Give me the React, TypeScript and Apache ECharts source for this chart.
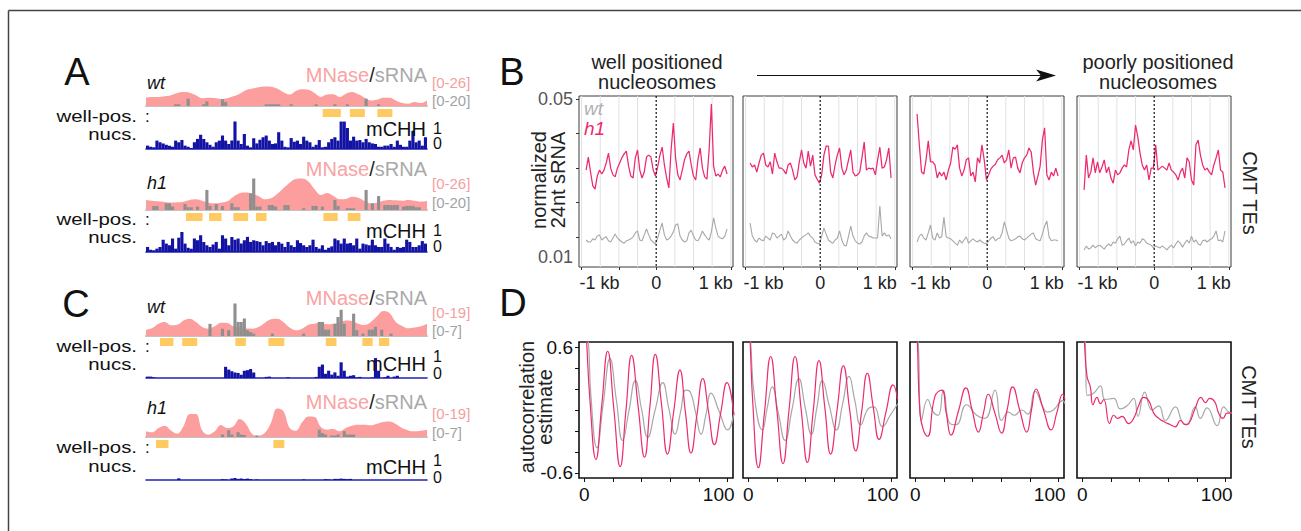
import React, { useEffect, useRef } from "react";
import * as echarts from "echarts";

const FONT = '"Liberation Sans", Arial, Helvetica, sans-serif';
const PINK = "#ec2a72";
const GRAY = "#a8a8a8";
const MN_PINK = "#fc9e9d";
const SRNA_GRAY = "#8f8f8f";
const ORANGE = "#ffca62";
const BLUE = "#1212a4";

// ---------------- Panels A / C : browser tracks (90 bins per track) ----------------
const BIN_IDS = Array.from({ length: 90 }, (_, i) => String(i));
const MN_POS = [0,2,4,6,8,10,12,14,16,18,20,22,24,26,28,30,32,34,36,38,40,42,44,46,48,50,52,54,56,58,60,62,64,66,68,70,72,74,76,78,80,82,84,86,88,90];

const A_WT_MNASE = [6.4,6.9,6.9,7.4,8.2,9.9,10.7,10.2,8.2,5.9,6.4,6.1,5.4,5.9,7.4,9.4,12.0,13.3,14.3,15.0,14.8,13.3,10.5,8.7,11.5,12.8,12.5,9.9,6.9,8.7,8.9,6.9,9.4,10.7,8.9,6.4,4.3,4.8,6.4,6.4,4.3,2.3,1.8,3.1,2.3,4.3];
const A_H1_MNASE = [7.7,7.1,6.6,6.1,5.6,5.9,6.4,7.7,8.2,7.1,5.6,5.1,5.6,6.6,10.2,12.8,13.3,12.5,10.7,8.2,8.9,12.2,16.6,20.9,23.7,24.0,21.7,15.8,11.5,13.0,10.7,8.2,8.4,10.2,9.4,6.9,5.1,5.6,7.1,7.7,7.4,7.1,7.7,7.1,6.4,6.9];
const C_WT_MNASE = [3.5,4.5,6.9,7.8,6.0,6.3,8.7,9.7,7.8,5.0,4.1,5.4,7.4,7.3,5.4,4.7,4.3,4.1,5.0,7.3,9.3,9.7,7.8,4.7,3.2,4.1,6.3,6.9,7.4,6.5,6.9,7.6,8.7,8.4,6.9,6.1,7.8,11.0,14.0,12.8,7.8,5.6,4.3,4.7,5.4,6.9];
const C_H1_MNASE = [3.2,2.6,5.0,6.3,3.7,1.9,6.0,12.8,12.9,3.7,1.3,3.2,6.7,5.0,6.0,10.0,7.4,1.7,0.7,2.2,7.8,15.9,14.5,5.0,3.5,8.2,11.5,11.2,5.6,4.1,4.5,3.2,5.0,6.3,6.9,6.9,6.5,7.4,8.4,8.6,7.3,5.0,3.7,3.2,3.5,4.1];

const A_WT_SRNA = [[9,1.0],[10,1.0],[13,4.3],[18,1.0],[19,2.7],[24,3.9],[25,2.4],[38,1.0],[39,1.0],[40,1.0],[41,1.0],[42,1.0],[46,1.0],[54,1.0],[60,1.0],[64,1.0],[70,4.3],[74,1.0]];
const A_H1_SRNA = [[2,2.4],[3,2.4],[6,3.9],[7,3.9],[8,2.0],[12,3.5],[13,1.6],[14,1.6],[16,2.0],[19,11.8],[20,2.4],[22,3.5],[24,2.4],[27,3.9],[28,1.6],[29,1.6],[33,9.8],[34,18.6],[35,2.0],[36,2.0],[39,2.9],[40,2.9],[41,2.0],[44,2.9],[45,2.9],[50,1.0],[53,2.4],[54,2.4],[56,2.0],[60,5.9],[61,2.4],[64,1.0],[65,1.0],[66,1.0],[70,11.8],[72,3.9],[74,8.2],[76,2.9],[77,2.9],[78,2.9],[79,2.9],[80,2.9],[82,2.0],[83,2.4],[84,2.4],[85,2.4],[86,1.6],[87,1.6]];
const C_WT_SRNA = [[20,2.5],[24,1.5],[26,1.2],[28,6.7],[29,2.9],[30,2.9],[31,3.6],[32,1.2],[33,0.8],[34,0.5],[40,0.5],[50,0.5],[55,2.9],[56,2.9],[57,1.3],[58,1.3],[60,2.5],[61,3.9],[62,5.4],[63,2.5],[66,4.6],[67,1.2],[69,0.5],[71,1.3],[72,1.3],[73,1.9],[75,1.3],[78,0.5]];
const C_H1_SRNA = [[24,0.5],[26,1.4],[27,0.5],[29,1.0],[30,0.5],[31,0.4],[35,0.3],[55,1.5],[56,0.8],[57,0.5],[59,0.3],[60,0.3],[61,0.5],[63,1.2],[64,0.5],[65,0.5],[66,0.5]];

const A_WT_NUC = [[56.6,62.4],[65.3,70.1],[74.1,78.9]];
const A_H1_NUC = [[12.8,18.1],[20.2,24.2],[28,32.7],[35.2,38.6],[56.8,61.4],[64.6,68.7]];
const C_WT_NUC = [[4.5,8.8],[11.6,16.4],[28.6,32],[39.2,44.3],[57.6,61],[69.3,72.6],[74.6,77.9]];
const C_H1_NUC = [[3.2,7.2],[40.8,44.3]];

const A_WT_MCHH = [0.12,0.08,0.06,0.30,0.24,0.20,0.15,0.12,0.08,0.30,0.24,0.32,0.12,0.08,0.04,0.24,0.36,0.51,0.36,0.24,0.15,0.08,0.24,0.30,0.48,0.30,0.18,0.30,0.98,0.30,0.18,0.54,0.12,0.06,0.38,0.20,0.33,0.42,0.48,0.30,0.18,0.20,0.60,0.30,0.08,0.06,0.39,0.26,0.30,0.18,0.44,0.30,0.24,0.08,0.15,0.32,0.06,0.08,0.24,0.36,0.42,0.30,0.98,0.98,0.75,0.30,0.44,0.30,0.32,0.24,0.36,0.24,0.20,0.18,0.08,0.08,0.12,0.12,0.18,0.08,0.30,0.15,0.08,0.08,0.30,0.65,0.24,0.30,0.12,0.42];
const A_H1_MCHH = [0.18,0.08,0.06,0.12,0.18,0.44,0.30,0.24,0.48,0.12,0.51,0.71,0.30,0.15,0.12,0.48,0.42,0.60,0.36,0.24,0.18,0.27,0.36,0.12,0.60,0.48,0.24,0.54,0.44,0.48,0.30,0.42,0.54,0.36,0.42,0.39,0.36,0.24,0.39,0.32,0.36,0.24,0.36,0.30,0.18,0.36,0.24,0.18,0.42,0.32,0.24,0.18,0.24,0.44,0.18,0.12,0.24,0.08,0.15,0.20,0.48,0.42,0.30,0.48,0.30,0.32,0.24,0.48,0.12,0.30,0.27,0.24,0.44,0.24,0.18,0.18,0.48,0.30,0.18,0.08,0.18,0.15,0.18,0.44,0.36,0.18,0.18,0.24,0.39,0.30];
const C_WT_MCHH = [[0,0.05],[1,0.05],[2,0.03],[25,0.40],[26,0.30],[27,0.24],[28,0.20],[29,0.18],[30,0.12],[31,0.26],[32,0.28],[33,0.32],[34,0.20],[38,0.04],[39,0.05],[45,0.03],[54,0.04],[55,0.40],[56,0.48],[57,0.15],[58,0.26],[59,0.12],[60,0.20],[61,0.08],[62,0.56],[63,0.26],[64,0.05],[65,0.08],[66,0.10],[67,0.02],[68,0.04],[72,0.02],[73,0.71],[74,0.26],[76,0.03],[77,0.08],[79,0.05],[80,0.08]];
const C_H1_MCHH = [[10,0.06],[24,0.03],[25,0.02],[27,0.05],[28,0.07],[29,0.04],[30,0.05],[31,0.04],[32,0.05],[33,0.03],[35,0.02],[50,0.02],[57,0.03],[58,0.02],[60,0.04],[61,0.04],[62,0.05],[63,0.04],[64,0.03],[65,0.04]];

// ---------------- Panel B : normalized 24nt sRNA around nucleosomes ----------------
const BIN_KB = [-0.94,-0.91,-0.88,-0.85,-0.82,-0.79,-0.76,-0.73,-0.70,-0.67,-0.64,-0.61,-0.58,-0.55,-0.52,-0.49,-0.46,-0.43,-0.40,-0.37,-0.34,-0.31,-0.28,-0.25,-0.22,-0.19,-0.16,-0.13,-0.10,-0.07,-0.04,-0.01,0.02,0.05,0.08,0.11,0.14,0.17,0.20,0.23,0.26,0.29,0.32,0.35,0.38,0.41,0.44,0.47,0.50,0.53,0.56,0.59,0.62,0.65,0.68,0.71,0.74,0.77,0.80,0.83,0.86,0.89,0.92,0.95];
const B_KB_TICKS = [-1, -0.5, 0, 0.5, 1];
const B_KB_GRID = [-1, -0.75, -0.5, -0.25, 0.25, 0.5, 0.75, 1];
const B_Y_TICKS = [0.05, 0.0414, 0.0325, 0.0239, 0.0151];
const B_Y_LABELS = [0.01, 0.05];

const B_H1_1 = [0.0320,0.0353,0.0315,0.0280,0.0272,0.0305,0.0320,0.0310,0.0320,0.0338,0.0363,0.0325,0.0308,0.0303,0.0325,0.0338,0.0351,0.0361,0.0368,0.0330,0.0305,0.0300,0.0351,0.0371,0.0320,0.0300,0.0315,0.0353,0.0358,0.0353,0.0320,0.0305,0.0328,0.0358,0.0378,0.0333,0.0300,0.0275,0.0371,0.0439,0.0351,0.0308,0.0295,0.0320,0.0346,0.0361,0.0368,0.0333,0.0305,0.0295,0.0346,0.0376,0.0325,0.0303,0.0297,0.0371,0.0487,0.0330,0.0305,0.0310,0.0303,0.0320,0.0330,0.0310];
const B_WT_1 = [0.0143,0.0138,0.0138,0.0146,0.0143,0.0153,0.0156,0.0143,0.0148,0.0151,0.0141,0.0138,0.0148,0.0158,0.0148,0.0143,0.0138,0.0135,0.0141,0.0143,0.0146,0.0151,0.0161,0.0166,0.0143,0.0141,0.0156,0.0171,0.0156,0.0143,0.0138,0.0133,0.0148,0.0168,0.0186,0.0156,0.0143,0.0146,0.0153,0.0163,0.0181,0.0184,0.0153,0.0143,0.0138,0.0141,0.0161,0.0168,0.0153,0.0143,0.0141,0.0151,0.0166,0.0156,0.0148,0.0143,0.0163,0.0199,0.0173,0.0153,0.0148,0.0146,0.0153,0.0171];
const B_H1_2 = [0.0338,0.0328,0.0333,0.0315,0.0338,0.0358,0.0363,0.0333,0.0328,0.0341,0.0310,0.0363,0.0341,0.0325,0.0325,0.0320,0.0310,0.0333,0.0338,0.0320,0.0295,0.0303,0.0341,0.0371,0.0338,0.0325,0.0368,0.0330,0.0358,0.0308,0.0297,0.0287,0.0308,0.0358,0.0381,0.0381,0.0315,0.0300,0.0333,0.0358,0.0376,0.0325,0.0308,0.0320,0.0346,0.0371,0.0315,0.0305,0.0308,0.0315,0.0351,0.0391,0.0320,0.0325,0.0323,0.0325,0.0308,0.0346,0.0378,0.0325,0.0328,0.0346,0.0376,0.0300];
const B_WT_2 = [0.0186,0.0153,0.0143,0.0138,0.0148,0.0143,0.0141,0.0153,0.0148,0.0143,0.0161,0.0158,0.0148,0.0153,0.0158,0.0143,0.0148,0.0166,0.0153,0.0143,0.0138,0.0135,0.0143,0.0148,0.0153,0.0156,0.0161,0.0153,0.0148,0.0138,0.0135,0.0133,0.0153,0.0173,0.0158,0.0143,0.0138,0.0135,0.0143,0.0148,0.0166,0.0143,0.0130,0.0128,0.0153,0.0178,0.0153,0.0141,0.0135,0.0133,0.0138,0.0153,0.0161,0.0153,0.0151,0.0148,0.0148,0.0148,0.0229,0.0153,0.0161,0.0153,0.0156,0.0146];
const B_H1_3 = [0.0462,0.0384,0.0315,0.0310,0.0346,0.0394,0.0341,0.0341,0.0333,0.0300,0.0315,0.0305,0.0315,0.0295,0.0320,0.0338,0.0378,0.0373,0.0384,0.0325,0.0305,0.0320,0.0346,0.0351,0.0305,0.0315,0.0290,0.0351,0.0338,0.0384,0.0346,0.0295,0.0308,0.0323,0.0330,0.0335,0.0346,0.0351,0.0358,0.0338,0.0346,0.0371,0.0325,0.0351,0.0353,0.0325,0.0313,0.0338,0.0351,0.0358,0.0376,0.0366,0.0315,0.0282,0.0305,0.0330,0.0396,0.0427,0.0308,0.0295,0.0315,0.0305,0.0325,0.0305];
const B_WT_3 = [0.0138,0.0153,0.0158,0.0148,0.0143,0.0161,0.0181,0.0148,0.0143,0.0161,0.0148,0.0151,0.0201,0.0151,0.0148,0.0146,0.0141,0.0135,0.0130,0.0143,0.0135,0.0143,0.0151,0.0135,0.0141,0.0146,0.0141,0.0138,0.0143,0.0138,0.0135,0.0133,0.0141,0.0148,0.0151,0.0141,0.0146,0.0148,0.0161,0.0189,0.0168,0.0148,0.0141,0.0143,0.0146,0.0151,0.0153,0.0146,0.0143,0.0148,0.0153,0.0158,0.0161,0.0146,0.0143,0.0141,0.0158,0.0178,0.0191,0.0151,0.0141,0.0143,0.0143,0.0141];
const B_H1_4 = [0.0270,0.0358,0.0300,0.0315,0.0351,0.0313,0.0341,0.0313,0.0328,0.0346,0.0313,0.0328,0.0300,0.0287,0.0320,0.0308,0.0313,0.0325,0.0333,0.0328,0.0371,0.0394,0.0371,0.0434,0.0404,0.0363,0.0333,0.0320,0.0333,0.0295,0.0325,0.0325,0.0384,0.0320,0.0325,0.0330,0.0325,0.0320,0.0338,0.0320,0.0315,0.0308,0.0295,0.0315,0.0325,0.0300,0.0351,0.0341,0.0295,0.0282,0.0384,0.0396,0.0358,0.0333,0.0320,0.0325,0.0315,0.0308,0.0333,0.0351,0.0371,0.0320,0.0315,0.0275];
const B_WT_4 = [0.0118,0.0128,0.0120,0.0123,0.0130,0.0123,0.0128,0.0130,0.0125,0.0120,0.0128,0.0133,0.0128,0.0138,0.0135,0.0146,0.0153,0.0130,0.0133,0.0141,0.0148,0.0135,0.0141,0.0128,0.0138,0.0135,0.0146,0.0143,0.0135,0.0133,0.0130,0.0123,0.0128,0.0125,0.0123,0.0128,0.0123,0.0118,0.0125,0.0130,0.0123,0.0133,0.0141,0.0135,0.0125,0.0135,0.0143,0.0135,0.0153,0.0138,0.0143,0.0133,0.0130,0.0141,0.0143,0.0138,0.0143,0.0146,0.0153,0.0166,0.0141,0.0143,0.0138,0.0166];

// ---------------- Panel D : autocorrelation estimate vs lag ----------------
const D_LAG_TICKS = [0, 20, 40, 60, 80, 100];
const D_LAG_LABELS = [0, 100];
const D_Y_TICKS = [-0.6, -0.4, -0.2, 0, 0.2, 0.4, 0.6];
const D_Y_LABELS = [-0.6, 0.6];

const D_H1_1 = [[0,1.0],[1.5,0.68],[4,0.08],[8.1,-0.47],[12.2,0.05],[16.3,0.56],[20.6,0.01],[25,-0.54],[29,-0.01],[33,0.52],[37.5,0.04],[42,-0.45],[45.8,0.04],[49.5,0.53],[53.8,0.06],[58,-0.42],[62.3,-0.02],[66.7,0.38],[70.5,-0.02],[74.4,-0.41],[78.5,-0.05],[82.6,0.30],[86.7,-0.02],[90.7,-0.33],[95.1,-0.03],[99.5,0.26],[104.4,-0.05]];
const D_WT_1 = [[0,1.0],[2.8,0.66],[4.7,0.12],[8.8,-0.36],[13.3,0.07],[17.9,0.49],[22.3,0.1],[26.7,-0.29],[31.1,-0.01],[35.6,0.28],[39.9,0.01],[44.2,-0.26],[49.4,0.0],[54.7,0.26],[59,0.01],[63.3,-0.23],[67.1,-0.02],[70.9,0.19],[74,0.17],[77.7,-0.03],[81.4,-0.23],[84.9,-0.04],[88.4,0.16],[94.2,-0.02],[100,-0.19],[104.4,-0.02]];
const D_H1_2 = [[0,1.0],[1.2,0.68],[3.2,0.05],[7,-0.55],[11.3,-0.02],[15.6,0.51],[19.9,0.0],[24.2,-0.51],[28.4,0.0],[32.6,0.51],[36.9,0.0],[41.2,-0.5],[45.2,-0.02],[49.3,0.47],[53.4,0.02],[57.4,-0.42],[61.9,0.0],[66.3,0.42],[70.6,0.01],[74.9,-0.39],[79,-0.02],[83,0.35],[87.1,0.03],[91.2,-0.28],[96,-0.02],[101,0.24],[104.2,0.1]];
const D_WT_2 = [[0,1.0],[1.6,0.66],[4.5,0.1],[9.8,-0.19],[13.2,0.02],[16.7,0.22],[21.1,-0.04],[25.6,-0.29],[30.4,0.0],[35.3,0.30],[39.6,0.03],[44,-0.23],[47.8,0.02],[51.6,0.28],[56.5,0.04],[61.4,-0.19],[65.8,0.06],[70.2,0.32],[74.3,0.09],[78.4,-0.14],[84.2,0.02],[87.7,0.03],[93.5,-0.16],[99,-0.05],[104.2,0.06]];
const D_H1_3 = [[0,1.0],[1.4,0.66],[3.3,-0.03],[8.6,-0.25],[13.7,0.13],[18.4,0.19],[21.6,-0.03],[24.9,-0.24],[30.1,-0.01],[35.3,0.21],[39.6,0.0],[44,-0.21],[47.5,-0.03],[50.9,0.15],[55.5,-0.03],[60.2,-0.22],[64,0.0],[67.9,0.22],[72.8,0.0],[77.7,-0.21],[81,0.0],[84.2,0.20],[89.4,0.0],[94.7,-0.19],[98.8,-0.02],[102.8,0.15],[104.4,0.1]];
const D_WT_3 = [[0,1.0],[2,0.66],[4.4,-0.10],[8.6,0.10],[12.6,-0.02],[16,-0.05],[19.5,0.19],[24.2,-0.13],[28.4,-0.14],[35.8,0.05],[42.8,-0.05],[48.6,-0.08],[55.6,0.19],[60.2,-0.10],[65,-0.02],[69,-0.05],[74.2,0.0],[78.5,-0.04],[83.5,0.18],[89.3,0.02],[92,-0.02],[96.3,0.0],[102.8,0.09],[104.4,0.06]];
const D_H1_4 = [[0,1.0],[1.4,0.66],[3.3,0.32],[5.6,0.22],[7.4,0.05],[10.2,0.12],[12.6,0.06],[14.9,0.10],[19,-0.13],[21.9,-0.05],[24.7,-0.08],[27.7,-0.06],[32.3,-0.13],[35.8,-0.08],[39.3,0.04],[42.8,0.12],[46.3,0.09],[49.8,-0.03],[53.3,-0.08],[56.7,-0.11],[61.4,-0.14],[64.9,-0.16],[68.4,-0.10],[71.9,-0.14],[74.2,-0.13],[78.8,0.02],[82.8,0.12],[85.8,0.07],[88.8,0.11],[92.3,0.08],[95.1,-0.03],[98.1,-0.08],[101,-0.03],[104.4,-0.03]];
const D_WT_4 = [[0,1.0],[2,0.66],[3.3,0.14],[7.9,0.16],[12.6,0.23],[16,0.10],[21.9,0.11],[26.5,0.01],[31.2,0.04],[35.8,0.11],[38.8,-0.06],[43.5,0.17],[48.6,0.0],[53.3,0.04],[57.9,-0.10],[64.9,0.03],[69.5,-0.11],[72.6,-0.14],[78.8,0.03],[82.3,-0.08],[87,0.02],[94,-0.15],[98.6,0.03],[102.1,-0.02],[104.4,-0.03]];

// ---------------- layout tables ----------------
const TRACK_LEFT = 146;
const TRACK_WIDTH = 281;
const TRACKS = [
  { mnase: A_WT_MNASE, srna: A_WT_SRNA, nuc: A_WT_NUC, mchh: A_WT_MCHH, mnMax: 26, srMax: 20, base: 106, orTop: 109, mBase: 149 },
  { mnase: A_H1_MNASE, srna: A_H1_SRNA, nuc: A_H1_NUC, mchh: A_H1_MCHH, mnMax: 26, srMax: 20, base: 210, orTop: 213, mBase: 252 },
  { mnase: C_WT_MNASE, srna: C_WT_SRNA, nuc: C_WT_NUC, mchh: C_WT_MCHH, mnMax: 19, srMax: 7, base: 336, orTop: 338, mBase: 378 },
  { mnase: C_H1_MNASE, srna: C_H1_SRNA, nuc: C_H1_NUC, mchh: C_H1_MCHH, mnMax: 19, srMax: 7, base: 437, orTop: 440, mBase: 480 },
];
const TRACK_TEXT = [
  { label: "wt", labelY: 83, mnY: 75, r1: "[0-26]", r1Y: 82, r2: "[0-20]", r2Y: 100, wpY: 116, nucY: 134, mchhY: 129, oneY: 128, zeroY: 143 },
  { label: "h1", labelY: 183, mnY: 169, r1: "[0-26]", r1Y: 183, r2: "[0-20]", r2Y: 202, wpY: 219, nucY: 237, mchhY: 231, oneY: 230, zeroY: 246 },
  { label: "wt", labelY: 307, mnY: 298, r1: "[0-19]", r1Y: 312, r2: "[0-7]", r2Y: 330, wpY: 346, nucY: 364, mchhY: 364, oneY: 356, zeroY: 373 },
  { label: "h1", labelY: 408, mnY: 402, r1: "[0-19]", r1Y: 413, r2: "[0-7]", r2Y: 432, wpY: 447, nucY: 466, mchhY: 467, oneY: 460, zeroY: 477 },
];
const PANEL_LEFTS = [579, 743, 910, 1077];
const PANEL_W = 154;
const B_PANELS = [
  { wt: B_WT_1, h1: B_H1_1 }, { wt: B_WT_2, h1: B_H1_2 }, { wt: B_WT_3, h1: B_H1_3 }, { wt: B_WT_4, h1: B_H1_4 },
];
const D_PANELS = [
  { wt: D_WT_1, h1: D_H1_1 }, { wt: D_WT_2, h1: D_H1_2 }, { wt: D_WT_3, h1: D_H1_3 }, { wt: D_WT_4, h1: D_H1_4 },
];

function txt(text: string, x: number, y: number, o: any = {}) {
  const style: any = {
    text,
    fontFamily: FONT,
    fontSize: o.size ?? 16,
    fill: o.color ?? "#111",
    align: o.align ?? "left",
    verticalAlign: "middle",
    fontStyle: o.italic ? "italic" : "normal",
  };
  if (o.rich) style.rich = o.rich;
  const el: any = { type: "text", x, y, rotation: o.rot ?? 0, silent: true, z: 100, style };
  if (o.sx) el.scaleX = o.sx;
  return el;
}

function buildOption() {
  const grid: any[] = [];
  const xAxis: any[] = [];
  const yAxis: any[] = [];
  const series: any[] = [];
  const addG = (g: any) => (grid.push(g), grid.length - 1);
  const addX = (a: any) => (xAxis.push(a), xAxis.length - 1);
  const addY = (a: any) => (yAxis.push(a), yAxis.length - 1);
  const hidden = { show: false };
  const noLine = { show: false, onZero: false };

  // ---- tracks
  TRACKS.forEach((t) => {
    const gS = addG({ left: TRACK_LEFT, top: t.base - 34, width: TRACK_WIDTH, height: 34 });
    const xc = addX({ type: "category", gridIndex: gS, data: BIN_IDS, axisLine: { show: true, onZero: false, lineStyle: { color: "#c2c2c2", width: 2 } }, axisTick: hidden, axisLabel: hidden, splitLine: hidden });
    const xv = addX({ type: "value", gridIndex: gS, min: 0, max: 90, show: false });
    const ym = addY({ type: "value", gridIndex: gS, min: 0, max: t.mnMax, show: false });
    const ys = addY({ type: "value", gridIndex: gS, min: 0, max: t.srMax, show: false });
    series.push({ type: "line", xAxisIndex: xv, yAxisIndex: ym, z: 1, data: MN_POS.map((p, i) => [p, t.mnase[i]]), smooth: 0.4, symbol: "none", lineStyle: { width: 0 }, areaStyle: { color: MN_PINK, opacity: 1 }, silent: true });
    series.push({ type: "bar", xAxisIndex: xc, yAxisIndex: ys, z: 3, data: t.srna, barWidth: "100%", itemStyle: { color: SRNA_GRAY }, silent: true });

    const gO = addG({ left: TRACK_LEFT, top: t.orTop, width: TRACK_WIDTH, height: 8 });
    const xo = addX({ type: "value", gridIndex: gO, min: 0, max: 90, show: false });
    const yo = addY({ type: "value", gridIndex: gO, min: 0, max: 1, show: false });
    series.push({
      type: "custom", xAxisIndex: xo, yAxisIndex: yo, data: t.nuc, silent: true,
      renderItem: (params: any, api: any) => {
        const a = api.coord([api.value(0), 0]);
        const b = api.coord([api.value(1), 1]);
        return { type: "rect", shape: { x: a[0], y: b[1], width: b[0] - a[0], height: a[1] - b[1] }, style: { fill: ORANGE } };
      },
    });

    const gM = addG({ left: TRACK_LEFT, top: t.mBase - 28, width: TRACK_WIDTH, height: 28 });
    const xm = addX({ type: "category", gridIndex: gM, data: BIN_IDS, axisLine: { show: true, onZero: false, lineStyle: { color: "#2222bb", width: 1.6 } }, axisTick: hidden, axisLabel: hidden, splitLine: hidden });
    const ymm = addY({ type: "value", gridIndex: gM, min: 0, max: 1, show: false });
    series.push({ type: "bar", xAxisIndex: xm, yAxisIndex: ymm, data: t.mchh, barWidth: "100%", itemStyle: { color: BLUE }, silent: true });
  });

  // ---- panel B
  const bRich = { fontSize: 18, color: "#222", fontFamily: FONT };
  B_PANELS.forEach((p, i) => {
    const g = addG({ left: PANEL_LEFTS[i], top: 96, width: PANEL_W, height: 171, show: true, borderColor: "#3a3a3a", borderWidth: 1, backgroundColor: "transparent" });
    const x = addX({
      type: "value", gridIndex: g, min: -1.035, max: 1.03, position: "bottom",
      axisLine: noLine, splitLine: hidden,
      axisTick: { show: true, inside: false, length: 3, customValues: B_KB_TICKS, lineStyle: { color: "#333" } },
      axisLabel: {
        customValues: [-1, 0, 1], margin: 7,
        formatter: (v: number) => (v < 0 ? "{l|-1 kb}" : v > 0 ? "{r|1 kb}" : "{c|0}"),
        rich: { l: { ...bRich, padding: [0, 0, 0, 36] }, r: { ...bRich, padding: [0, 30, 0, 0] }, c: bRich },
      },
    });
    const y = addY({
      type: "value", gridIndex: g, min: 0.00747, max: 0.05076, position: "left",
      axisLine: noLine, splitLine: hidden,
      axisTick: { show: i === 0, inside: false, length: 3, customValues: B_Y_TICKS, lineStyle: { color: "#333" } },
      axisLabel: { show: i === 0, customValues: B_Y_LABELS, formatter: (v: number) => v.toFixed(2), color: "#555", fontSize: 18, fontFamily: FONT, margin: 6 },
    });
    series.push({
      type: "custom", xAxisIndex: x, yAxisIndex: y, z: 1, silent: true,
      data: B_KB_GRID.map((v) => [v, 0.03]),
      renderItem: (params: any, api: any) => {
        const px = api.coord([api.value(0), 0.03])[0];
        const cs = params.coordSys;
        return { type: "line", shape: { x1: px, y1: cs.y, x2: px, y2: cs.y + cs.height }, style: { stroke: "#e2e2e2", lineWidth: 1 } };
      },
    });
    series.push({ type: "line", xAxisIndex: x, yAxisIndex: y, z: 2, data: BIN_KB.map((k, j) => [k, p.wt[j]]), symbol: "none", lineStyle: { color: GRAY, width: 1.1 }, silent: true });
    series.push({ type: "line", xAxisIndex: x, yAxisIndex: y, z: 3, data: BIN_KB.map((k, j) => [k, p.h1[j]]), symbol: "none", lineStyle: { color: PINK, width: 1.25 }, silent: true });
    series.push({
      type: "custom", xAxisIndex: x, yAxisIndex: y, z: 4, silent: true,
      data: [[0, 0.03]],
      renderItem: (params: any, api: any) => {
        const px = api.coord([api.value(0), 0.03])[0];
        const cs = params.coordSys;
        return { type: "line", shape: { x1: px, y1: cs.y, x2: px, y2: cs.y + cs.height }, style: { stroke: "#111", lineWidth: 1.2, lineDash: [2, 2] } };
      },
    });
  });

  // ---- panel D
  const dRich = { fontSize: 19, color: "#111", fontFamily: FONT };
  D_PANELS.forEach((p, i) => {
    const g = addG({ left: PANEL_LEFTS[i], top: 342, width: PANEL_W, height: 136, show: true, borderColor: "#111", borderWidth: 1.6, backgroundColor: "transparent" });
    const x = addX({
      type: "value", gridIndex: g, min: -3.7, max: 103.7, position: "bottom",
      axisLine: noLine, splitLine: hidden,
      axisTick: { show: true, inside: false, length: 4, customValues: D_LAG_TICKS, lineStyle: { color: "#111" } },
      axisLabel: {
        customValues: D_LAG_LABELS, margin: 7,
        formatter: (v: number) => (v === 0 ? "{c|0}" : "{r|100}"),
        rich: { c: dRich, r: { ...dRich, padding: [0, 18, 0, 0] } },
      },
    });
    const y = addY({
      type: "value", gridIndex: g, min: -0.648, max: 0.648, position: "left",
      axisLine: noLine, splitLine: hidden,
      axisTick: { show: i === 0, inside: false, length: 4, customValues: D_Y_TICKS, lineStyle: { color: "#111" } },
      axisLabel: { show: i === 0, customValues: D_Y_LABELS, formatter: (v: number) => (v > 0 ? "0.6" : "-0.6"), color: "#111", fontSize: 19, fontFamily: FONT, margin: 6 },
    });
    series.push({ type: "line", xAxisIndex: x, yAxisIndex: y, z: 2, data: p.wt, smooth: 0.5, symbol: "none", lineStyle: { color: GRAY, width: 1.2 }, silent: true });
    series.push({ type: "line", xAxisIndex: x, yAxisIndex: y, z: 3, data: p.h1, smooth: 0.5, symbol: "none", lineStyle: { color: PINK, width: 1.2 }, silent: true });
  });

  // ---- texts & decorations
  const els: any[] = [];
  els.push({ type: "line", silent: true, shape: { x1: 8.5, y1: 10.5, x2: 1301, y2: 10.5 }, style: { stroke: "#444", lineWidth: 1.5 } });
  els.push({ type: "line", silent: true, shape: { x1: 8.5, y1: 10.5, x2: 8.5, y2: 531 }, style: { stroke: "#444", lineWidth: 1.5 } });
  els.push(txt("A", 77, 72, { size: 38, align: "center" }));
  els.push(txt("C", 76, 304, { size: 38, align: "center" }));
  els.push(txt("B", 512, 72, { size: 38, align: "center" }));
  els.push(txt("D", 513, 303, { size: 38, align: "center" }));

  TRACK_TEXT.forEach((t) => {
    els.push(txt(t.label, 147, t.labelY, { size: 18, italic: true }));
    els.push(txt("{a|MNase}{b|/}{c|sRNA}", 427, t.mnY, {
      align: "right",
      rich: {
        a: { fill: "#f9a3a3", fontSize: 20, fontFamily: FONT },
        b: { fill: "#222", fontSize: 20, fontFamily: FONT },
        c: { fill: "#a9a9a9", fontSize: 20, fontFamily: FONT },
      },
    }));
    els.push(txt(t.r1, 432, t.r1Y, { size: 15, color: "#f4a0a0" }));
    els.push(txt(t.r2, 432, t.r2Y, { size: 15, color: "#a3a3a3" }));
    els.push(txt("well-pos.", 137, t.wpY, { size: 17, align: "right", sx: 1.2 }));
    els.push(txt(":", 145, t.wpY, { size: 17 }));
    els.push(txt("nucs.", 137, t.nucY, { size: 17, align: "right", sx: 1.2 }));
    els.push(txt("mCHH", 426, t.mchhY, { size: 20, align: "right" }));
    els.push(txt("1", 433, t.oneY, { size: 16 }));
    els.push(txt("0", 433, t.zeroY, { size: 16 }));
  });

  els.push(txt("well positioned", 657, 62, { size: 20, align: "center", color: "#222" }));
  els.push(txt("nucleosomes", 657, 82, { size: 20, align: "center", color: "#222" }));
  els.push(txt("poorly positioned", 1158, 62, { size: 20, align: "center", color: "#222" }));
  els.push(txt("nucleosomes", 1158, 82, { size: 20, align: "center", color: "#222" }));
  els.push({ type: "line", silent: true, shape: { x1: 757, y1: 75.5, x2: 1042, y2: 75.5 }, style: { stroke: "#111", lineWidth: 1.2 } });
  els.push({ type: "polygon", silent: true, shape: { points: [[1036, 69.5], [1056, 75.5], [1036, 81.5], [1041, 75.5]] }, style: { fill: "#111" } });

  els.push(txt("normalized", 539, 180, { size: 20, align: "center", color: "#222", rot: Math.PI / 2 }));
  els.push(txt("24nt sRNA", 558, 180, { size: 20, align: "center", color: "#222", rot: Math.PI / 2 }));
  els.push(txt("autocorrelation", 527, 407, { size: 20, align: "center", color: "#222", rot: Math.PI / 2 }));
  els.push(txt("estimate", 545, 407, { size: 20, align: "center", color: "#222", rot: Math.PI / 2 }));
  els.push(txt("CMT TEs", 1250, 193, { size: 20, align: "center", color: "#222", rot: -Math.PI / 2 }));
  els.push(txt("CMT TEs", 1249, 407, { size: 20, align: "center", color: "#222", rot: -Math.PI / 2 }));
  els.push(txt("wt", 584, 108, { size: 19, italic: true, color: "#b0b0b0" }));
  els.push(txt("h1", 584, 128, { size: 19, italic: true, color: PINK }));

  return {
    animation: false,
    backgroundColor: "#ffffff",
    textStyle: { fontFamily: FONT },
    grid, xAxis, yAxis, series,
    graphic: { elements: els },
  };
}

export default function App() {
  const ref = useRef<HTMLDivElement>(null);
  useEffect(() => {
    const chart = echarts.init(ref.current!, null, { renderer: "svg" });
    chart.setOption(buildOption() as any);
    return () => chart.dispose();
  }, []);
  return (
    <div
      ref={ref}
      style={{ position: "fixed", left: 0, top: 0, width: 1301, height: 531, background: "#fff" }}
    />
  );
}
